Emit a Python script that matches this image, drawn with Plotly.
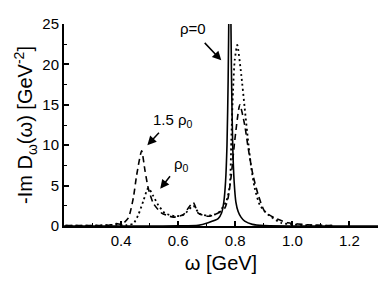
import plotly.graph_objects as go

# rho = 0 (solid)
w_vac = [0.20, 0.50, 0.60, 0.67, 0.705, 0.74, 0.752, 0.760, 0.766, 0.771, 0.775, 0.778, 0.781,
         0.784, 0.787, 0.791, 0.796, 0.802, 0.810, 0.820, 0.833, 0.86, 0.90, 1.00, 1.30]
d_vac = [0.0, 0.0, 0.02, 0.08, 0.4, 0.9, 1.6, 3.0, 5.5, 10.0, 18.0, 28.0, 40.0,
         28.0, 18.0, 10.0, 5.5, 3.0, 1.8, 1.1, 0.6, 0.2, 0.05, 0.0, 0.0]

# rho_0 (dotted)
w_rho0 = [0.205, 0.30, 0.38, 0.42, 0.443, 0.4605, 0.478, 0.495, 0.513, 0.530, 0.553, 0.59,
          0.62, 0.653, 0.675, 0.71, 0.74, 0.769, 0.781, 0.786, 0.792, 0.798, 0.807, 0.821,
          0.833, 0.845, 0.856, 0.868, 0.886, 0.915, 0.96, 1.00, 1.05, 1.10, 1.14]
d_rho0 = [0.05, 0.05, 0.15, 0.1, 0.3, 1.4, 3.1, 4.7, 3.7, 2.6, 1.6, 1.2,
          1.4, 2.5, 1.5, 1.3, 1.6, 3.1, 5.1, 10.5, 16.7, 20.5, 22.4, 18.7,
          14.6, 10.5, 7.2, 4.7, 2.6, 1.4, 0.4, 0.2, 0.1, 0.05, 0.03]

# 1.5 rho_0 (dashed)
w_rho15 = [0.205, 0.286, 0.356, 0.384, 0.402, 0.4255, 0.443, 0.4545, 0.472, 0.484, 0.495,
           0.513, 0.542, 0.583, 0.618, 0.635, 0.653, 0.670, 0.705, 0.740, 0.763, 0.775,
           0.786, 0.798, 0.816, 0.833, 0.845, 0.862, 0.880, 0.903, 0.938, 0.984, 1.054, 1.14]
d_rho15 = [0.05, 0.05, 0.1, 0.3, 0.2, 1.0, 3.5, 6.3, 9.3, 6.8, 4.7,
           2.8, 1.6, 1.1, 1.4, 2.2, 2.9, 1.6, 1.2, 1.6, 2.2, 3.5,
           6.3, 10.5, 15.0, 12.5, 9.7, 6.3, 3.9, 1.8, 1.0, 0.4, 0.15, 0.05]

x_ticks = [0.4, 0.6, 0.8, 1.0, 1.2]
x_tick_text = ["0.4", "0.6", "0.8", "1.0", "1.2"]
y_ticks = [0, 5, 10, 15, 20, 25]

FONT = "Liberation Sans, Arial, Helvetica, sans-serif"

fig = go.Figure()
fig.add_trace(go.Scatter(x=w_vac, y=d_vac, mode="lines",
                         line=dict(color="black", width=1.6, shape="spline", smoothing=0.6),
                         showlegend=False))
fig.add_trace(go.Scatter(x=w_rho0, y=d_rho0, mode="lines",
                         line=dict(color="black", width=1.8, dash="2px,3px", shape="spline", smoothing=0.6),
                         showlegend=False))
fig.add_trace(go.Scatter(x=w_rho15, y=d_rho15, mode="lines",
                         line=dict(color="black", width=1.6, dash="6px,4px", shape="spline", smoothing=0.6),
                         showlegend=False))

ann_font = dict(family=FONT, size=15, color="black")
fig.add_annotation(x=0.653, y=24.5, text="ρ=0", showarrow=False, font=ann_font)
fig.add_annotation(x=0.751, y=20.5, ax=-18, ay=-19, text="", showarrow=True,
                   arrowhead=2, arrowsize=1.2, arrowwidth=1.5, arrowcolor="black")
fig.add_annotation(x=0.583, y=13.1, text="1.5 ρ<sub>0</sub>", showarrow=False, font=ann_font)
fig.add_annotation(x=0.492, y=10.0, ax=13, ay=-14, text="", showarrow=True,
                   arrowhead=2, arrowsize=1.2, arrowwidth=1.5, arrowcolor="black")
fig.add_annotation(x=0.611, y=7.6, text="ρ<sub>0</sub>", showarrow=False, font=ann_font)
fig.add_annotation(x=0.537, y=4.6, ax=11, ay=-14, text="", showarrow=True,
                   arrowhead=2, arrowsize=1.2, arrowwidth=1.5, arrowcolor="black")

fig.update_layout(
    width=388, height=284,
    margin=dict(l=56, r=18, t=16, b=66),
    paper_bgcolor="white", plot_bgcolor="white",
    font=dict(family=FONT, size=15, color="black"),
    xaxis=dict(range=[0.2, 1.3], tickvals=x_ticks, ticktext=x_tick_text,
               showline=True, linecolor="black", linewidth=2, mirror=False,
               ticks="inside", ticklen=5, tickwidth=1.5, tickcolor="black",
               minor=dict(dtick=0.1, tick0=0.0, ticks="inside", ticklen=3, tickcolor="black", tickwidth=1.2),
               showgrid=False, zeroline=False, automargin=False,
               tickfont=dict(size=15),
               title=dict(text="ω [GeV]", font=dict(size=20), standoff=8)),
    yaxis=dict(range=[0, 25], tickvals=y_ticks,
               showline=True, linecolor="black", linewidth=2, mirror=False,
               ticks="inside", ticklen=5, tickwidth=1.5, tickcolor="black",
               minor=dict(dtick=2.5, tick0=0, ticks="inside", ticklen=3, tickcolor="black", tickwidth=1.2),
               showgrid=False, zeroline=False, automargin=False,
               tickfont=dict(size=15),
               title=dict(text="-Im D<sub>ω</sub>(ω) [GeV<sup>-2</sup>]", font=dict(size=20), standoff=4)),
)

fig.write_html("out.html")
